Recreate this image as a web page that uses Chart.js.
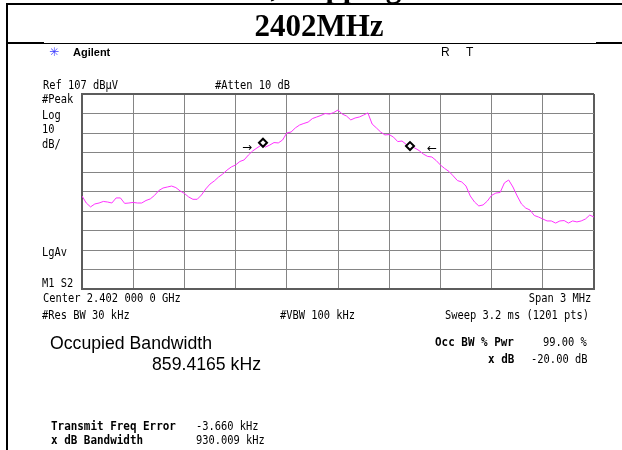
<!DOCTYPE html>
<html>
<head>
<meta charset="utf-8">
<script src="https://cdn.jsdelivr.net/npm/chart.js@4/dist/chart.umd.min.js"></script>
<style>
  html,body{margin:0;padding:0;background:#fff;}
  body{width:622px;height:450px;position:relative;overflow:hidden;}
  #c{position:absolute;left:0;top:0;width:622px;height:450px;}
  .ln{position:absolute;background:#000;}
  .t{position:absolute;white-space:nowrap;font-family:'DejaVu Sans Mono',monospace;font-size:13px;line-height:13px;color:#000;transform-origin:0 50%;transform:scaleX(0.8);}
  .r{transform-origin:100% 50%;text-align:right;}
  .b{font-weight:bold;transform:scaleX(0.84);}
  .big{font-family:'Liberation Sans',Arial,sans-serif;font-size:19px;line-height:19px;transform:scaleX(0.93);}
  .serif{position:absolute;white-space:nowrap;font-family:'Liberation Serif','Times New Roman',serif;font-weight:bold;font-size:31px;line-height:31px;color:#000;}
  .sans{position:absolute;white-space:nowrap;font-family:'Liberation Sans',Arial,sans-serif;color:#000;}
</style>
</head>
<body>
<canvas id="c" width="622" height="450"></canvas>

<!-- table borders -->
<div class="ln" style="left:6px;top:3px;width:616px;height:2px;"></div>
<div class="ln" style="left:6px;top:3px;width:2px;height:447px;"></div>
<div class="ln" style="left:6px;top:42px;width:38px;height:2px;"></div>
<div class="ln" style="left:44px;top:43px;width:552px;height:1px;"></div>
<div class="ln" style="left:596px;top:42px;width:26px;height:2px;"></div>

<!-- titles -->
<div class="serif" style="left:186px;top:-29px;">GFSK, Hopping</div>
<div class="serif" style="left:0;width:638px;text-align:center;top:10px;">2402MHz</div>

<!-- analyzer header -->
<div class="sans" style="left:49px;top:45px;font-family:'DejaVu Sans';font-size:12px;line-height:14px;color:#3d3dff;">✳</div>
<div class="sans" style="left:73px;top:46px;font-size:11px;line-height:13px;font-weight:bold;">Agilent</div>
<div class="sans" style="left:441px;top:45px;font-size:12px;line-height:14px;">R</div>
<div class="sans" style="left:466px;top:45px;font-size:12px;line-height:14px;">T</div>

<div class="t" style="left:43px;top:78px;">Ref 107 dBµV</div>
<div class="t" style="left:215px;top:78px;">#Atten 10 dB</div>
<div class="t" style="left:42px;top:92px;">#Peak</div>
<div class="t" style="left:42px;top:108px;">Log</div>
<div class="t" style="left:42px;top:122px;">10</div>
<div class="t" style="left:42px;top:137px;">dB/</div>
<div class="t" style="left:42px;top:245px;">LgAv</div>
<div class="t" style="left:42px;top:276px;">M1 S2</div>
<div class="t" style="left:43px;top:291px;">Center 2.402 000 0 GHz</div>
<div class="t r" style="right:31px;top:291px;">Span 3 MHz</div>
<div class="t" style="left:42px;top:308px;">#Res BW 30 kHz</div>
<div class="t" style="left:280px;top:308px;">#VBW 100 kHz</div>
<div class="t r" style="right:33px;top:308px;">Sweep 3.2 ms (1201 pts)</div>

<div class="t big" style="left:50px;top:333px;">Occupied Bandwidth</div>
<div class="t big" style="left:152px;top:354px;">859.4165 kHz</div>

<div class="t b r" style="right:108px;top:335px;">Occ BW % Pwr</div>
<div class="t r" style="right:35px;top:335px;">99.00 %</div>
<div class="t b r" style="right:108px;top:352px;">x dB</div>
<div class="t r" style="right:35px;top:352px;">-20.00 dB</div>

<div class="t b" style="left:51px;top:419px;">Transmit Freq Error</div>
<div class="t" style="left:196px;top:419px;">-3.660 kHz</div>
<div class="t b" style="left:51px;top:433px;">x dB Bandwidth</div>
<div class="t" style="left:196px;top:433px;">930.009 kHz</div>

<script>
// ---- data ----
const startMHz = 2400.5;          // Center 2.402 GHz, Span 3 MHz
const stopMHz = 2403.5;
const refLevel = 107;             // dBuV, top of screen
const bottomLevel = 7;            // 10 dB/div, 10 divisions

// trace level (dBuV) at equally spaced sweep points across the span
const levels = [
  54.7, 51.1, 49.1, 50.6, 51.1, 51.9, 51.6, 51.1, 53.7, 53.7,
  50.9, 51.1, 51.4, 51.1, 51.1, 52.4, 53.2, 55.0, 57.5, 58.8,
  59.3, 59.8, 59.0, 57.3, 56.0, 54.2, 53.0, 53.0, 55.2, 58.3,
  60.8, 62.4, 64.4, 66.0, 68.0, 69.6, 70.6, 72.4, 73.2, 75.7,
  77.8, 79.3, 80.8, 79.8, 80.8, 82.1, 81.9, 83.4, 87.0, 87.5,
  89.6, 91.1, 91.9, 92.6, 94.4, 95.2, 96.0, 97.0, 96.7, 97.5,
  98.8, 96.7, 95.7, 93.7, 94.7, 95.2, 96.2, 97.3, 91.6, 89.6,
  87.5, 86.0, 86.2, 84.9, 82.6, 82.9, 81.1, 80.3, 79.3, 78.0,
  76.2, 75.0, 74.7, 72.9, 70.6, 68.8, 67.3, 65.0, 62.6, 61.9,
  59.8, 54.7, 51.6, 49.6, 50.1, 52.1, 55.0, 56.2, 56.5, 61.4,
  62.9, 59.3, 54.7, 50.6, 48.5, 47.5, 44.7, 43.9, 42.9, 41.9,
  41.9, 40.8, 41.9, 42.1, 40.8, 41.9, 41.4, 41.9, 42.9, 44.9,
  43.9
];

// occupied-bandwidth markers (diamonds)
const markerFreqs = [2401.5605, 2402.4219];
const markerLevels = [82.0, 80.3];

// x dB bandwidth arrows
const arrowFreqs = [2401.467, 2402.551];
const arrowLevels = [79.3, 79.0];
const arrowGlyphs = ['→', '←'];

// ---- build chart ----
const n = levels.length;
const traceData = levels.map((v, i) => ({x: startMHz + (stopMHz - startMHz) * i / (n - 1), y: v}));
const markerData = markerFreqs.map((f, i) => ({x: f, y: markerLevels[i]}));

const edgeW = (c) => (c.index === 0 || c.index === 10) ? 2 : 1;
const edgeC = (c) => (c.index === 0 || c.index === 10) ? '#5c5c5c' : '#858585';

const arrowPlugin = {
  id: 'arrows',
  afterDatasetsDraw(chart) {
    const {ctx, scales} = chart;
    ctx.save();
    ctx.fillStyle = '#000';
    ctx.font = '12px "DejaVu Sans"';
    ctx.textAlign = 'center';
    ctx.textBaseline = 'middle';
    arrowFreqs.forEach((f, i) => {
      ctx.fillText(arrowGlyphs[i], scales.x.getPixelForValue(f), scales.y.getPixelForValue(arrowLevels[i]));
    });
    ctx.restore();
  }
};

const bgPlugin = {
  id: 'bg',
  beforeDraw(chart) {
    const c = chart.ctx;
    c.save(); c.fillStyle = '#fff'; c.fillRect(0, 0, chart.width, chart.height); c.restore();
  }
};

new Chart(document.getElementById('c'), {
  type: 'line',
  data: {
    datasets: [
      {label: 'Marker', data: markerData, showLine: false, pointStyle: 'rectRot', pointRadius: 4,
       borderColor: '#000', backgroundColor: '#fff', borderWidth: 2, order: 1},
      {label: 'Trace', data: traceData, borderColor: '#ff33ff', borderWidth: 1, pointRadius: 0,
       tension: 0, fill: false, order: 2}
    ]
  },
  options: {
    responsive: false,
    animation: false,
    devicePixelRatio: 1,
    layout: {padding: {left: 82, top: 94, right: 28, bottom: 161}},
    plugins: {legend: {display: false}, tooltip: {enabled: false}, title: {display: false}},
    scales: {
      x: {type: 'linear', min: startMHz, max: stopMHz,
          ticks: {display: false, stepSize: 0.3},
          grid: {drawTicks: false, color: edgeC, lineWidth: edgeW},
          border: {display: true, color: '#5c5c5c', width: 2}},
      y: {type: 'linear', min: bottomLevel, max: refLevel,
          ticks: {display: false, stepSize: 10},
          grid: {drawTicks: false, color: edgeC, lineWidth: edgeW},
          border: {display: true, color: '#5c5c5c', width: 2}}
    }
  },
  plugins: [bgPlugin, arrowPlugin]
});
</script>
</body>
</html>
